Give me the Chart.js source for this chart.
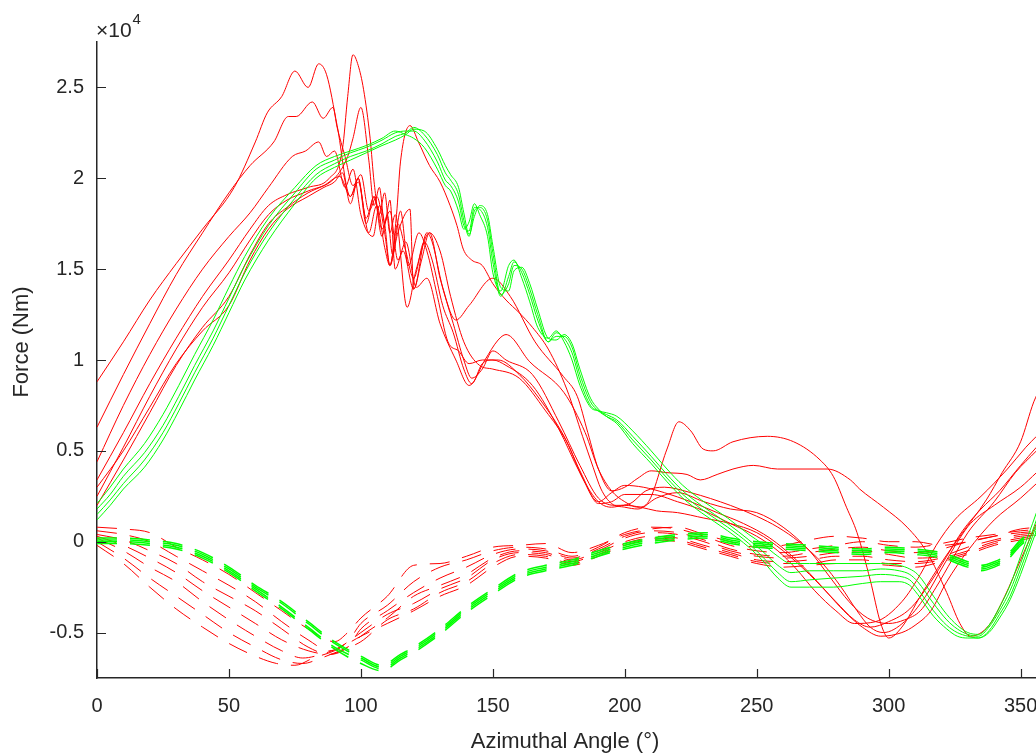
<!DOCTYPE html>
<html>
<head>
<meta charset="utf-8">
<script src="https://cdn.jsdelivr.net/npm/chart.js@4"></script>
<style>
  html, body { margin: 0; padding: 0; background: #ffffff; overflow: hidden; width: 1036px; height: 755px; }
</style>
</head>
<body>
<canvas id="forceChart" width="1060" height="755"></canvas>
<script>
// Force values are in units of 10^4 Nm (axis shows x10^4)
const xTicks = [0, 50, 100, 150, 200, 250, 300, 350];
const yTicks = [-0.5, 0, 0.5, 1, 1.5, 2, 2.5];

// solid red runs, [angle, force]
const red1 = [[0,0.88],[10,1.10],[20,1.33],[30,1.53],[40,1.72],[52,1.95],[60,2.20],[64.5,2.36],[70,2.45],[75,2.59],[80,2.50],[84,2.63],[87,2.57],[91,2.29],[96,1.90],[99,2.00],[102,1.78],[105,1.90],[108,1.72],[111,1.82],[114,1.55],[117,1.65],[121,1.40],[125,1.45],[130,1.20],[136,1.00],[141,0.86],[147,1.00],[152,1.11],[155,1.14],[164,0.99],[177,0.82],[185,0.60],[190,0.40],[195,0.28],[200,0.22],[205,0.19],[209,0.22],[216,0.51],[220.5,0.66],[225,0.61],[229.7,0.51],[233.5,0.50],[241,0.55],[254,0.58],[264,0.55],[274,0.45],[279,0.36],[284,0.19],[288,0.05],[293,-0.21],[297,-0.45],[300,-0.53],[305,-0.47],[312,-0.30],[320.7,-0.10],[327,0.03],[337,0.23],[343,0.38],[350,0.55],[355,0.77],[358,0.86]];
const red2 = [[0,0.63],[10,0.92],[20,1.20],[30,1.47],[40,1.70],[50,1.92],[58,2.07],[67,2.20],[72.5,2.34],[75.5,2.34],[81.6,2.42],[85.7,2.33],[89.4,2.39],[91,2.28],[94,2.12],[97,1.96],[100,2.02],[103,1.82],[106,1.90],[109,1.70],[111,1.52],[113.5,1.80],[115,2.09],[118.6,2.29],[121.8,2.20],[126,2.07],[130,1.98],[133.8,1.85],[136.4,1.74],[138.8,1.61],[142,1.55],[146,1.52],[150,1.42],[155,1.33],[160,1.26],[165,1.18],[171,1.06],[178,0.84],[184,0.58],[188,0.41],[191,0.29],[195,0.21],[200,0.19],[205,0.18],[212,0.24],[220,0.27],[230,0.22],[240,0.18],[250,0.16],[260,0.08],[270,-0.05],[278,-0.20],[285,-0.33],[292,-0.42],[300,-0.45],[306,-0.43],[312,-0.38],[318,-0.25],[324,-0.10],[330,0.05],[340,0.22],[348,0.38],[356,0.50]];
const red3 = [[0,0.44],[10,0.75],[20,1.03],[30,1.28],[40,1.50],[50,1.68],[58,1.81],[65,1.95],[74,2.12],[79,2.15],[84,2.20],[87,2.12],[90,2.15],[94,1.95],[97,2.05],[100,1.80],[104.6,1.68],[107,1.85],[109,1.75],[111,1.52],[114,1.70],[118.6,1.83],[120,1.39],[125,1.70],[127,1.65],[131,1.40],[136,1.22],[141,1.30],[150,1.45],[156.6,1.35],[166,1.10],[176.7,0.91],[182,0.80],[186,0.60],[190,0.40],[195,0.28],[200,0.30],[205,0.35],[210,0.39],[216,0.38],[223.6,0.37],[228.6,0.34],[235,0.37],[241,0.40],[248.7,0.42],[257.8,0.40],[276.7,0.40],[285.5,0.34],[289,0.29],[298,0.19],[307,0.08],[314.6,-0.06],[322,-0.28],[327,-0.45],[331,-0.52],[338,-0.46],[344,-0.30],[350,-0.10],[356,0.10]];
const red4 = [[0,0.34],[10,0.60],[20,0.87],[30,1.12],[40,1.35],[50,1.55],[58,1.72],[65,1.85],[72,1.91],[80,1.95],[88,2.00],[93,2.16],[95,2.45],[97,2.68],[99,2.62],[101,2.49],[103.5,2.22],[105,1.98],[107,1.80],[109,1.92],[111,1.70],[113,1.80],[117.5,1.29],[121,1.50],[126,1.70],[130,1.45],[135,1.20],[139,1.00],[142,0.90],[146,0.95],[150,1.05],[155,1.00],[165,0.92],[175,0.66],[183,0.42],[190,0.24],[197,0.20],[202,0.21],[208,0.28],[215,0.30],[225,0.27],[240,0.20],[250,0.14],[258,0.08],[266,0.00],[275,-0.12],[282,-0.25],[288,-0.38],[293,-0.47],[298,-0.50],[306,-0.44],[314,-0.30],[320,-0.15],[327,0.02],[331,0.10],[340,0.20],[350,0.30],[356,0.38]];
const red5 = [[0,0.25],[10,0.52],[20,0.80],[30,1.06],[40,1.29],[50,1.48],[58,1.66],[65,1.80],[72,1.88],[80,1.93],[90,2.00],[95,2.12],[97,2.22],[100,2.39],[103,2.10],[105,1.85],[107,1.95],[109,1.75],[111,1.88],[113,1.50],[116,1.60],[120,1.39],[123,1.55],[126,1.70],[130,1.60],[134,1.35],[139,1.10],[145,0.97],[150,0.95],[160,0.90],[170,0.72],[178,0.55],[184,0.35],[190,0.22],[195,0.19],[200,0.20],[206,0.19],[212,0.17],[220,0.16],[230,0.13],[240,0.10],[250,0.05],[260,-0.05],[270,-0.18],[280,-0.33],[287,-0.43],[293,-0.47],[300,-0.44],[308,-0.37],[316,-0.22],[322,-0.08],[328,0.06],[335,0.18],[342,0.28],[350,0.42],[356,0.52]];
const red6 = [[0,0.20],[10,0.45],[20,0.71],[30,0.97],[40,1.18],[50,1.35],[58,1.58],[65,1.75],[72,1.84],[80,1.92],[86,1.96],[92,2.01],[96,1.90],[99,1.98],[103,1.70],[106,1.85],[109,1.62],[111,1.52],[114,1.75],[117,1.60],[120,1.45],[124,1.65],[127,1.55],[131,1.30],[135,1.15],[139,0.95],[142,0.87],[146,0.98],[150,1.00],[155,0.97],[165,0.86],[175,0.62],[183,0.38],[190,0.22],[195,0.27],[200,0.31],[207,0.30],[215,0.27],[225,0.22],[235,0.16],[245,0.10],[255,0.02],[265,-0.10],[273,-0.22],[283,-0.38],[290,-0.47],[297,-0.52],[305,-0.50],[310,-0.46],[316,-0.38],[322,-0.22],[330,-0.05],[340,0.12],[350,0.24],[356,0.32]];
const red7 = [[0,0.30],[10,0.50],[20,0.74],[30,0.98],[40,1.16],[50,1.30],[58,1.55],[65,1.72],[72,1.83],[80,1.90],[86,1.95],[90,1.98],[93,2.03],[96,1.86],[99,2.00],[102,1.75],[105,1.90],[108,1.68],[110,1.80],[112,1.58],[115,1.82],[118,1.52],[122,1.70],[125,1.60],[129,1.35],[133,1.10],[137,1.05],[141,0.98],[146,1.00],[152,1.00],[160,0.92],[168,0.78],[177,0.58],[184,0.36],[190,0.21],[195,0.22],[200,0.26],[210,0.26],[220,0.22],[230,0.17],[240,0.10],[250,0.03],[258,-0.05],[265,-0.15],[272,-0.27],[280,-0.38],[287,-0.45],[295,-0.44],[305,-0.33],[312,-0.18],[318,-0.02],[325,0.12],[335,0.25],[345,0.40],[352,0.52],[356,0.58]];

// dashed red runs, [angle, force]
const redDash1 = [[0,0.08],[10,0.07],[20,0.05],[30,-0.03],[40,-0.10],[50,-0.18],[60,-0.28],[70,-0.38],[80,-0.48],[90,-0.55],[95,-0.50],[100,-0.42],[110,-0.30],[120,-0.13],[130,-0.12],[140,-0.08],[150,-0.03],[160,-0.02],[170,-0.01],[180,-0.06],[190,-0.02],[200,0.04],[210,0.07],[220,0.08],[230,0.04],[240,0.00],[250,-0.03],[260,-0.02],[270,0.01],[280,0.03],[290,0.02],[300,0.00],[310,0.00],[320,-0.02],[330,0.00],[340,0.03],[350,0.07],[360,0.08]];
const redDash2 = [[0,0.06],[10,0.04],[20,0.00],[30,-0.08],[40,-0.16],[50,-0.24],[60,-0.33],[70,-0.44],[80,-0.54],[88,-0.60],[95,-0.55],[100,-0.45],[110,-0.35],[120,-0.22],[130,-0.14],[140,-0.10],[150,-0.05],[160,-0.03],[170,-0.04],[180,-0.08],[190,-0.03],[200,0.05],[210,0.08],[220,0.07],[230,0.03],[240,-0.02],[250,-0.05],[260,-0.06],[270,-0.04],[280,-0.02],[290,0.00],[300,-0.02],[310,-0.03],[320,-0.01],[330,0.02],[340,0.04],[350,0.06],[360,0.07]];
const redDash3 = [[0,0.04],[10,0.01],[20,-0.05],[30,-0.12],[40,-0.22],[50,-0.30],[60,-0.38],[70,-0.48],[80,-0.58],[88,-0.62],[95,-0.58],[100,-0.48],[110,-0.38],[120,-0.28],[130,-0.20],[140,-0.14],[150,-0.07],[160,-0.04],[170,-0.05],[180,-0.09],[190,-0.04],[200,0.03],[210,0.06],[220,0.05],[230,0.01],[240,-0.04],[250,-0.07],[260,-0.08],[270,-0.06],[280,-0.04],[290,-0.03],[300,-0.05],[310,-0.06],[320,-0.04],[330,0.00],[340,0.03],[350,0.05],[360,0.06]];
const redDash4 = [[0,0.03],[10,-0.02],[20,-0.09],[30,-0.17],[40,-0.27],[50,-0.36],[60,-0.45],[70,-0.54],[80,-0.60],[88,-0.62],[95,-0.58],[100,-0.52],[110,-0.42],[120,-0.30],[130,-0.24],[140,-0.18],[150,-0.09],[160,-0.05],[170,-0.06],[180,-0.10],[190,-0.05],[200,0.02],[210,0.05],[220,0.04],[230,0.00],[240,-0.05],[250,-0.08],[260,-0.09],[270,-0.08],[280,-0.06],[290,-0.05],[300,-0.07],[310,-0.09],[320,-0.08],[330,-0.03],[340,0.01],[350,0.04],[360,0.05]];
const redDash5 = [[0,0.02],[10,-0.05],[20,-0.14],[30,-0.22],[40,-0.33],[50,-0.43],[60,-0.52],[70,-0.60],[78,-0.64],[85,-0.62],[92,-0.58],[100,-0.50],[110,-0.40],[120,-0.34],[130,-0.26],[140,-0.20],[150,-0.10],[160,-0.06],[170,-0.07],[180,-0.11],[190,-0.06],[200,0.00],[210,0.03],[220,0.02],[230,-0.02],[240,-0.06],[250,-0.10],[260,-0.11],[270,-0.10],[280,-0.08],[290,-0.08],[300,-0.10],[310,-0.11],[320,-0.09],[330,-0.05],[340,0.00],[350,0.03],[360,0.04]];
const redDash6 = [[0,0.00],[10,-0.09],[20,-0.20],[30,-0.30],[40,-0.40],[50,-0.50],[60,-0.58],[70,-0.65],[78,-0.67],[85,-0.64],[92,-0.60],[100,-0.55],[110,-0.43],[120,-0.37],[130,-0.28],[140,-0.22],[150,-0.12],[160,-0.07],[170,-0.08],[180,-0.12],[190,-0.07],[200,-0.01],[210,0.02],[220,0.01],[230,-0.03],[240,-0.07],[250,-0.11],[260,-0.12],[270,-0.12],[280,-0.10],[290,-0.10],[300,-0.12],[310,-0.12],[320,-0.10],[330,-0.06],[340,-0.01],[350,0.02],[360,0.04]];
const redDash7 = [[0,-0.02],[10,-0.12],[20,-0.25],[30,-0.37],[40,-0.47],[50,-0.56],[60,-0.63],[68,-0.67],[75,-0.68],[82,-0.64],[90,-0.60],[100,-0.52],[110,-0.45],[120,-0.38],[130,-0.30],[140,-0.24],[150,-0.14],[160,-0.08],[170,-0.09],[180,-0.13],[190,-0.08],[200,-0.02],[210,0.01],[220,0.00],[230,-0.04],[240,-0.08],[250,-0.12],[260,-0.14],[270,-0.13],[280,-0.12],[290,-0.12],[300,-0.13],[310,-0.14],[320,-0.11],[330,-0.07],[340,-0.02],[350,0.01],[360,0.03]];

// solid green runs share one angle list
const greenAngles = [0,5,10,18,25,31,37,44,50,56,65,75,83,90,96,102,108,113,117,120,124,129,132,134,137,139,141,143,145,148,150,153,156,158,161,164,167,171,174,177,180,183,187,190,193,197,203,210,216,222,229,239,247,252,258,263,270,279,290,297,304,308,311,317,322,326,330,334,338,342,346,350,353,356,360];
const green1 = [0.21,0.30,0.40,0.54,0.70,0.86,1.03,1.22,1.40,1.57,1.78,1.95,2.07,2.12,2.15,2.18,2.22,2.26,2.24,2.22,2.17,2.05,1.96,1.93,1.82,1.72,1.76,1.86,1.80,1.68,1.48,1.38,1.52,1.55,1.45,1.32,1.18,1.12,1.16,1.10,1.00,0.86,0.74,0.72,0.71,0.69,0.61,0.50,0.40,0.31,0.23,0.13,0.04,-0.01,-0.08,-0.12,-0.12,-0.12,-0.12,-0.12,-0.13,-0.15,-0.18,-0.30,-0.40,-0.46,-0.50,-0.51,-0.46,-0.36,-0.24,-0.08,0.04,0.16,0.34];
const green2 = [0.18,0.26,0.36,0.49,0.64,0.80,0.97,1.16,1.34,1.52,1.74,1.92,2.05,2.10,2.14,2.17,2.21,2.25,2.26,2.26,2.21,2.09,1.99,1.96,1.87,1.74,1.71,1.84,1.83,1.73,1.54,1.35,1.46,1.54,1.48,1.36,1.22,1.10,1.15,1.12,1.04,0.89,0.75,0.72,0.70,0.67,0.58,0.47,0.37,0.28,0.20,0.10,0.01,-0.05,-0.13,-0.17,-0.16,-0.16,-0.16,-0.15,-0.16,-0.18,-0.22,-0.34,-0.43,-0.48,-0.51,-0.52,-0.47,-0.38,-0.27,-0.12,0.00,0.12,0.30];
const green3 = [0.15,0.23,0.32,0.45,0.60,0.76,0.93,1.12,1.30,1.48,1.70,1.89,2.02,2.08,2.12,2.15,2.19,2.23,2.25,2.28,2.24,2.13,2.03,1.99,1.91,1.77,1.68,1.82,1.84,1.77,1.59,1.36,1.42,1.52,1.50,1.39,1.25,1.10,1.13,1.13,1.07,0.92,0.77,0.72,0.69,0.66,0.56,0.45,0.35,0.26,0.18,0.08,-0.01,-0.08,-0.17,-0.22,-0.21,-0.20,-0.19,-0.18,-0.19,-0.21,-0.26,-0.38,-0.46,-0.50,-0.52,-0.53,-0.49,-0.40,-0.30,-0.15,-0.03,0.09,0.26];
const green4 = [0.12,0.20,0.29,0.41,0.56,0.72,0.89,1.08,1.26,1.44,1.66,1.86,2.00,2.06,2.10,2.14,2.18,2.21,2.24,2.27,2.26,2.16,2.07,2.02,1.95,1.81,1.69,1.79,1.85,1.80,1.63,1.40,1.38,1.49,1.51,1.42,1.28,1.12,1.11,1.14,1.09,0.95,0.79,0.73,0.69,0.65,0.54,0.43,0.33,0.24,0.16,0.06,-0.03,-0.10,-0.20,-0.25,-0.25,-0.25,-0.23,-0.22,-0.22,-0.24,-0.29,-0.41,-0.48,-0.52,-0.53,-0.53,-0.50,-0.42,-0.32,-0.18,-0.06,0.06,0.22];

// dashed green runs share one angle list
const greenDashAngles = [0,10,20,30,40,50,60,70,80,90,100,108,115,120,130,140,150,160,170,180,190,200,210,220,230,240,250,260,270,280,290,300,310,320,330,335,340,345,350,355,360];
const greenDash1 = [0.02,0.02,0.01,-0.01,-0.06,-0.14,-0.24,-0.33,-0.44,-0.55,-0.63,-0.68,-0.62,-0.58,-0.48,-0.36,-0.26,-0.17,-0.13,-0.10,-0.05,-0.01,0.02,0.04,0.05,0.02,0.00,-0.01,-0.02,-0.03,-0.04,-0.03,-0.04,-0.06,-0.11,-0.13,-0.11,-0.07,0.01,0.06,0.09];
const greenDash2 = [0.01,0.01,0.00,-0.02,-0.07,-0.15,-0.25,-0.34,-0.45,-0.56,-0.64,-0.69,-0.63,-0.59,-0.49,-0.37,-0.27,-0.18,-0.14,-0.11,-0.06,-0.02,0.01,0.03,0.04,0.01,-0.01,-0.02,-0.03,-0.04,-0.05,-0.04,-0.05,-0.07,-0.12,-0.14,-0.12,-0.08,0.00,0.05,0.08];
const greenDash3 = [0.00,0.00,-0.01,-0.03,-0.08,-0.16,-0.26,-0.36,-0.47,-0.58,-0.65,-0.70,-0.64,-0.60,-0.50,-0.38,-0.28,-0.19,-0.15,-0.12,-0.07,-0.03,0.00,0.02,0.03,0.00,-0.02,-0.03,-0.04,-0.05,-0.06,-0.05,-0.06,-0.08,-0.13,-0.15,-0.13,-0.09,-0.01,0.04,0.07];
const greenDash4 = [-0.01,-0.01,-0.02,-0.04,-0.09,-0.17,-0.27,-0.37,-0.48,-0.59,-0.67,-0.71,-0.65,-0.61,-0.51,-0.39,-0.29,-0.20,-0.16,-0.13,-0.08,-0.04,-0.01,0.01,0.02,-0.01,-0.03,-0.04,-0.05,-0.06,-0.07,-0.06,-0.07,-0.09,-0.14,-0.16,-0.14,-0.10,-0.02,0.03,0.06];

const RED = '#ff0000';
const GREEN = '#00ff00';
const TEXT = '#262626';
const FONT = '"Liberation Sans", Arial, sans-serif';
const DASH = [20, 13];

function pairs(list) {
    return list.map(p => ({ x: p[0], y: p[1] }));
}
function zipped(xs, ys) {
    return ys.map((v, i) => ({ x: xs[i], y: v }));
}

// first dataset is painted last, so greens go first to sit on top
const datasets = [];
[green1, green2, green3, green4].forEach(g => {
    datasets.push({ data: zipped(greenAngles, g), borderColor: GREEN, borderWidth: 1 });
});
[greenDash1, greenDash2, greenDash3, greenDash4].forEach(g => {
    datasets.push({ data: zipped(greenDashAngles, g), borderColor: GREEN, borderDash: DASH, borderWidth: 1.5 });
});
[red1, red2, red3, red4, red5, red6, red7].forEach(r => {
    datasets.push({ data: pairs(r), borderColor: RED, borderWidth: 1 });
});
[redDash1, redDash2, redDash3, redDash4, redDash5, redDash6, redDash7].forEach(r => {
    datasets.push({ data: pairs(r), borderColor: RED, borderDash: DASH, borderWidth: 1 });
});
datasets.forEach(d => {
    d.pointRadius = 0;
    d.fill = false;
    d.cubicInterpolationMode = 'monotone';
});

// inward tick marks, exponent label and axis titles (MATLAB style)
const matlabAxes = {
    id: 'matlabAxes',
    afterDraw(chart) {
        const { ctx, chartArea: area, scales: { x, y } } = chart;
        ctx.save();
        ctx.strokeStyle = TEXT;
        ctx.lineWidth = 1.2;
        ctx.beginPath();
        xTicks.forEach(v => {
            const px = Math.round(x.getPixelForValue(v)) + 0.5;
            ctx.moveTo(px, area.bottom);
            ctx.lineTo(px, area.bottom - 9);
        });
        yTicks.forEach(v => {
            const py = Math.round(y.getPixelForValue(v)) + 0.5;
            ctx.moveTo(area.left, py);
            ctx.lineTo(area.left + 9, py);
        });
        ctx.stroke();

        ctx.fillStyle = TEXT;
        ctx.textAlign = 'left';
        ctx.textBaseline = 'alphabetic';
        ctx.font = '21px ' + FONT;
        ctx.fillText('\u00d710', 96, 37);
        const w = ctx.measureText('\u00d710').width;
        ctx.font = '15px ' + FONT;
        ctx.fillText('4', 96 + w + 1, 24);

        ctx.font = '22px ' + FONT;
        ctx.textAlign = 'center';
        ctx.textBaseline = 'middle';
        ctx.fillText('Azimuthal Angle (\u00b0)', 565, 742);
        ctx.translate(22, 342);
        ctx.rotate(-Math.PI / 2);
        ctx.fillText('Force (Nm)', 0, 0);
        ctx.restore();
    }
};

const ctx = document.getElementById('forceChart').getContext('2d');
const forceChart = new Chart(ctx, {
    type: 'line',
    data: { datasets: datasets },
    options: {
        responsive: false,
        animation: false,
        devicePixelRatio: 1,
        layout: { padding: { top: 42, right: 13, bottom: 0, left: 0 } },
        plugins: {
            legend: { display: false },
            tooltip: { enabled: false }
        },
        scales: {
            x: {
                type: 'linear',
                min: 0,
                max: 360,
                grid: { display: false, drawTicks: false },
                border: { display: true, color: TEXT, width: 1.5 },
                ticks: { padding: 16, color: TEXT, font: { family: FONT, size: 20 }, maxRotation: 0 },
                afterBuildTicks: scale => { scale.ticks = xTicks.map(v => ({ value: v })); },
                afterFit: scale => { scale.height = 77; }
            },
            y: {
                type: 'linear',
                min: -0.75,
                max: 2.75,
                grid: { display: false, drawTicks: false },
                border: { display: true, color: TEXT, width: 1.5 },
                ticks: { padding: 13, color: TEXT, font: { family: FONT, size: 20 }, callback: v => String(v) },
                afterBuildTicks: scale => { scale.ticks = yTicks.map(v => ({ value: v })); },
                afterFit: scale => { scale.width = 97; }
            }
        }
    },
    plugins: [matlabAxes]
});
</script>
</body>
</html>
